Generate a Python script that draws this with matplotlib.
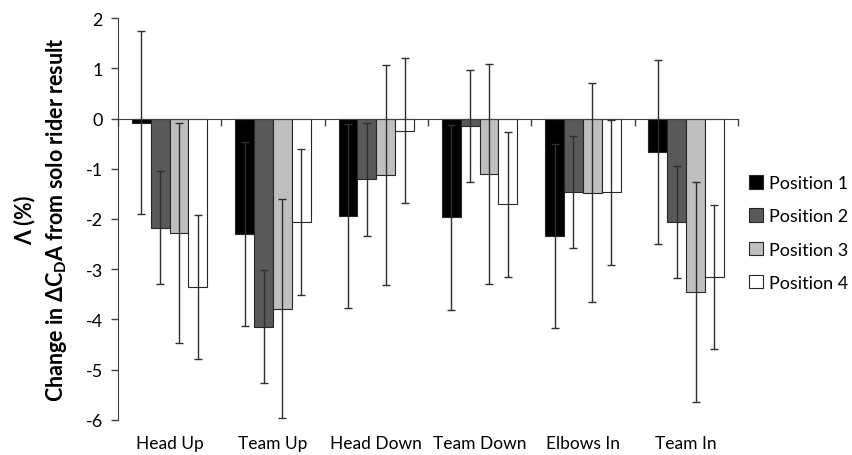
import matplotlib
matplotlib.use("Agg")
import matplotlib.pyplot as plt
import numpy as np

plt.rcParams['font.family'] = ['Lato', 'DejaVu Sans']
plt.rcParams['mathtext.fontset'] = 'custom'
plt.rcParams['mathtext.rm'] = 'Lato:bold'
plt.rcParams['mathtext.it'] = 'Lato:bold'
plt.rcParams['mathtext.bf'] = 'Lato:bold'

categories = ["Head Up", "Team Up", "Head Down", "Team Down", "Elbows In", "Team In"]
series_names = ["Position 1", "Position 2", "Position 3", "Position 4"]
pos1 = [-0.08, -2.30, -1.94, -1.97, -2.34, -0.66]
pos2 = [-2.17, -4.14, -1.21, -0.15, -1.46, -2.06]
pos3 = [-2.28, -3.79, -1.13, -1.11, -1.48, -3.45]
pos4 = [-3.35, -2.06, -0.24, -1.71, -1.47, -3.16]
err1 = [1.83, 1.83, 1.83, 1.84, 1.83, 1.83]
err2 = [1.12, 1.13, 1.12, 1.12, 1.12, 1.12]
err3 = [2.19, 2.18, 2.19, 2.19, 2.18, 2.19]
err4 = [1.43, 1.45, 1.44, 1.44, 1.44, 1.43]
yticks = [2, 1, 0, -1, -2, -3, -4, -5, -6]

values = [pos1, pos2, pos3, pos4]
errors = [err1, err2, err3, err4]
colors = ["#000000", "#595959", "#bfbfbf", "#ffffff"]

fig = plt.figure(figsize=(8.53, 4.56), dpi=100)
ax = fig.add_axes([0.1383, 0.0768, 0.865 - 0.1383, 0.9583 - 0.0768])

x = np.arange(len(categories))
bw = 0.1825
for i, (vals, errs, c) in enumerate(zip(values, errors, colors)):
    xs = x + (i - 1.5) * bw
    ax.bar(xs, vals, width=bw, color=c, edgecolor="#262626", linewidth=0.8,
           label=series_names[i], zorder=2)
    ax.errorbar(xs, vals, yerr=errs, fmt='none', ecolor="#2e2e2e",
                elinewidth=1.0, capsize=3, capthick=1.0, zorder=3)

ax.set_xlim(-0.5, len(categories) - 0.5)
ax.set_ylim(-6, 2)
ax.set_yticks(yticks)
ax.set_yticklabels([str(t) for t in yticks], fontsize=13)
ax.tick_params(axis='y', direction='out', length=5, color="#404040", width=1, pad=6)

for s in ['top', 'right']:
    ax.spines[s].set_visible(False)
ax.spines['left'].set_color("#404040")
ax.spines['bottom'].set_position(('data', 0))
ax.spines['bottom'].set_color("#404040")
ax.set_xticks(np.arange(len(categories) + 1) - 0.5)
ax.set_xticklabels([])
ax.tick_params(axis='x', direction='out', length=5, color="#404040", width=1)

sec = ax.secondary_xaxis('bottom')
sec.set_xticks(x)
sec.set_xticklabels(categories, fontsize=12.5)
sec.tick_params(length=0, pad=11)
sec.spines['bottom'].set_visible(False)

ax.set_ylabel("Λ (%)\nChange in ΔC$_{D}$A from solo rider result", fontsize=15.5,
              fontweight='bold', labelpad=12, linespacing=1.45)

fig.legend(loc='center left', bbox_to_anchor=(0.859, 0.487), frameon=False,
           fontsize=13, handlelength=0.75, handleheight=0.75, handletextpad=0.35,
           labelspacing=0.95)

fig.savefig("out.png", dpi=100)
